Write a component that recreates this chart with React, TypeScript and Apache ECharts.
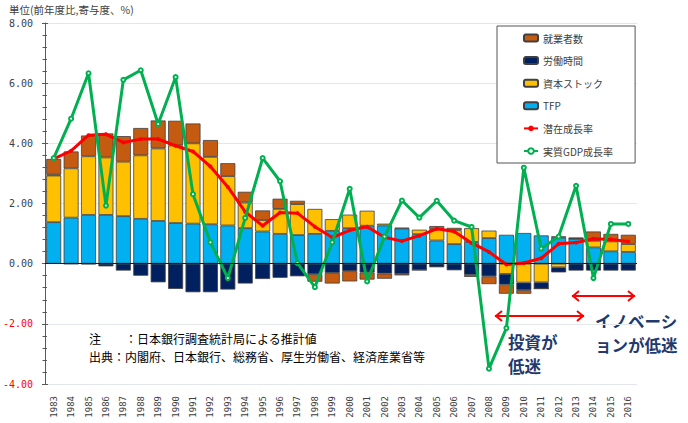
import { useEffect, useRef } from "react";
import * as echarts from "echarts";

const years = [
  "1983", "1984", "1985", "1986", "1987", "1988", "1989", "1990", "1991", "1992",
  "1993", "1994", "1995", "1996", "1997", "1998", "1999", "2000", "2001", "2002",
  "2003", "2004", "2005", "2006", "2007", "2008", "2009", "2010", "2011", "2012",
  "2013", "2014", "2015", "2016",
];

// 寄与度 (積み上げ順: TFP → 資本ストック → 労働時間 → 就業者数)
const tfp = [
  1.38, 1.53, 1.62, 1.62, 1.58, 1.49, 1.42, 1.35, 1.33, 1.31,
  1.27, 1.18, 1.07, 0.99, 0.95, 0.99, 1.09, 1.18, 1.26, 1.27,
  1.17, 0.98, 0.77, 0.65, 0.72, 0.85, 0.96, 1.02, 0.94, 0.86,
  0.83, 0.54, 0.41, 0.39,
];
const capital = [
  1.55, 1.64, 1.95, 1.91, 1.81, 2.11, 2.41, 2.58, 2.67, 2.24,
  1.64, 0.85, 0.38, 0.83, 1.03, 0.83, 0.39, 0.45, 0.5, 0.06,
  0.02, 0.15, 0.38, 0.46, 0.46, 0.25, -0.34, -0.63, -0.62, -0.12,
  0, 0.22, 0.33, 0.26,
];
const hours = [
  0.03, -0.01, -0.02, -0.09, -0.23, -0.4, -0.62, -0.84, -0.95, -0.95,
  -0.86, -0.66, -0.51, -0.47, -0.42, -0.35, -0.31, -0.25, -0.29, -0.33,
  -0.34, -0.21, -0.12, -0.22, -0.37, -0.42, -0.36, -0.25, -0.21, -0.17,
  -0.23, -0.23, -0.23, -0.23,
];
const employed = [
  0.52, 0.56, 0.69, 0.8, 0.85, 0.91, 0.93, 0.82, 0.66, 0.56,
  0.43, 0.36, 0.32, 0.34, 0.11, -0.25, -0.35, -0.34, -0.24, -0.17,
  -0.05, 0, 0.1, 0.08, -0.07, -0.26, -0.3, -0.12, 0, 0.05,
  0.04, 0.31, 0.25, 0.31,
];
const potential = [
  3.48, 3.75, 4.27, 4.3, 4.03, 4.14, 4.14, 3.92, 3.73, 3.23,
  2.55, 1.72, 1.26, 1.7, 1.68, 1.23, 0.87, 1.11, 1.23, 0.88,
  0.75, 0.93, 1.16, 1.07, 0.69, 0.39, -0.03, 0.02, 0.18, 0.66,
  0.7, 0.83, 0.8, 0.74,
];
const realGdp = [
  3.51, 4.82, 6.33, 1.93, 6.11, 6.43, 4.64, 6.2, 2.31, 0.71,
  -0.48, 1.52, 3.51, 2.74, 0.02, -0.78, 0.71, 2.49, -0.59, 0.9,
  2.1, 1.53, 2.09, 1.43, 1.22, -3.49, -2.14, 3.19, 0.5, 0.9,
  2.59, -0.48, 1.32, 1.32,
];

const legendOrder = ["就業者数", "労働時間", "資本ストック", "TFP", "潜在成長率", "実質GDP成長率"];

const JP = "'Noto Sans CJK JP', sans-serif";
const MONO = "'DejaVu Sans Mono', monospace";

const arrow = (x1: number, x2: number, y: number) => ({
  type: "group",
  children: [
    { type: "line", shape: { x1, y1: y, x2, y2: y }, style: { stroke: "#FF0000", lineWidth: 2 } },
    {
      type: "polyline",
      shape: { points: [[x1 + 7, y - 5], [x1 + 1, y], [x1 + 7, y + 5]] },
      style: { stroke: "#FF0000", lineWidth: 2, fill: "none" },
    },
    {
      type: "polyline",
      shape: { points: [[x2 - 7, y - 5], [x2 - 1, y], [x2 - 7, y + 5]] },
      style: { stroke: "#FF0000", lineWidth: 2, fill: "none" },
    },
  ],
});

// 複数行は1つのテキストにまとめる
const label = (
  text: string,
  x: number,
  y: number,
  size: number,
  fill: string,
  lineHeight: number,
  weight = "normal"
) => ({
  type: "text",
  x,
  y,
  style: { text, fontSize: size, fontFamily: JP, fill, fontWeight: weight, lineHeight },
});

const barStyle = (color: string) => ({ color, borderColor: "#404040", borderWidth: 0.8 });

const App = () => {
  const chartRef = useRef<HTMLDivElement>(null);

  useEffect(() => {
    if (!chartRef.current) return;
    const chart = echarts.init(chartRef.current, null, { renderer: "svg" });

    const axisGray = "#595959";
    const navy = "#1F3A6E";

    chart.setOption({
      animation: false,
      backgroundColor: "#fff",
      grid: { left: 45, right: 51, top: 23, bottom: 39, outerBoundsMode: "none" },
      legend: {
        data: legendOrder,
        orient: "vertical",
        left: 497,
        top: 26,
        padding: [5, 22, 5, 26],
        itemWidth: 14,
        itemHeight: 7,
        itemGap: 8.6,
        backgroundColor: "#fff",
        borderColor: "#555",
        borderWidth: 1,
        borderRadius: 0,
        textStyle: { fontSize: 10, color: "#404040", fontFamily: JP, lineHeight: 14 },
      },
      xAxis: {
        type: "category",
        data: years,
        axisLine: { show: false, onZero: false },
        axisTick: { show: false },
        axisLabel: { rotate: 90, margin: 12, fontSize: 9, color: "#404040", fontFamily: MONO, interval: 0 },
      },
      yAxis: [
        {
          type: "value",
          min: -4,
          max: 8,
          interval: 2,
          axisLine: { show: true, lineStyle: { color: axisGray } },
          axisTick: { show: true, length: 3, lineStyle: { color: axisGray } },
          minorTick: { show: true, splitNumber: 5, length: 2.5, lineStyle: { color: axisGray } },
          splitLine: { show: true, lineStyle: { color: "#E3E7EC" } },
          axisLabel: {
            margin: 12,
            fontSize: 10,
            fontFamily: MONO,
            formatter: (v: number) => v.toFixed(2),
            color: (v: any) => (Number(v) < 0 ? "#FF0000" : "#404040"),
          },
        },
        {
          type: "value",
          min: -4,
          max: 8,
          interval: 2,
          position: "left",
          axisLine: { show: false },
          axisTick: { show: true, inside: true, length: 3, lineStyle: { color: axisGray } },
          minorTick: { show: true, splitNumber: 5, length: 2, lineStyle: { color: axisGray } },
          splitLine: { show: false },
          axisLabel: { show: false },
        },
      ],
      series: [
        {
          name: "TFP",
          type: "bar",
          stack: "total",
          barWidth: 15,
          data: tfp,
          itemStyle: barStyle("#00B0F0"),
          markLine: {
            silent: true,
            symbol: "none",
            label: { show: false },
            lineStyle: { color: "#1a1a1a", width: 1, type: "solid" },
            data: [{ yAxis: 0 }],
          },
        },
        { name: "資本ストック", type: "bar", stack: "total", barWidth: 15, data: capital, itemStyle: barStyle("#FFC000") },
        { name: "労働時間", type: "bar", stack: "total", barWidth: 15, data: hours, itemStyle: barStyle("#002060") },
        { name: "就業者数", type: "bar", stack: "total", barWidth: 15, data: employed, itemStyle: barStyle("#C55A11") },
        {
          name: "潜在成長率",
          type: "line",
          data: potential,
          symbol: "circle",
          symbolSize: 4,
          lineStyle: { color: "#FF0000", width: 3 },
          itemStyle: { color: "#FF0000" },
          z: 3,
        },
        {
          name: "実質GDP成長率",
          type: "line",
          data: realGdp,
          symbol: "emptyCircle",
          symbolSize: 4,
          lineStyle: { color: "#00B050", width: 3 },
          itemStyle: { color: "#00B050", borderWidth: 1 },
          z: 4,
        },
      ],
      graphic: [
        label("単位(前年度比,寄与度、%)", 9, 3, 10.5, "#404040", 13),
        label(
          "注　　：日本銀行調査統計局による推計値\n出典：内閣府、日本銀行、総務省、厚生労働省、経済産業省等",
          89,
          330,
          12,
          "#000",
          17.5
        ),
        arrow(495, 584, 316),
        arrow(572, 635, 296),
        label("投資が\n低迷", 508, 330, 16.5, navy, 24, "bold"),
        label("イノベーシ\nョンが低迷", 595, 308.5, 16.5, navy, 24, "bold"),
      ],
    });

    return () => chart.dispose();
  }, []);

  return (
    <div
      ref={chartRef}
      style={{ position: "fixed", left: 0, top: 0, width: "688px", height: "423px" }}
    />
  );
};

export default App;
